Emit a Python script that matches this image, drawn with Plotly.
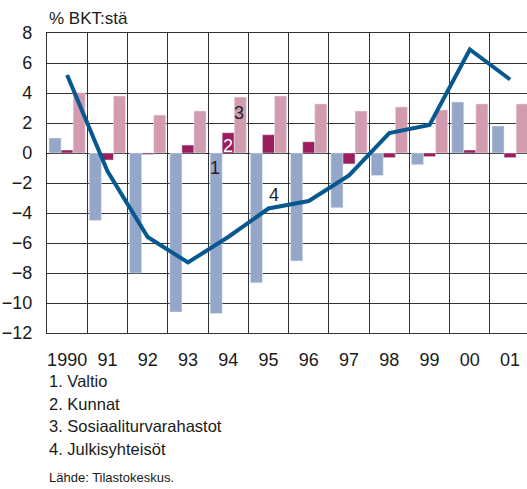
import plotly.graph_objects as go

years = ["1990", "91", "92", "93", "94", "95", "96", "97", "98", "99", "00", "01"]
valtio = [1.0, -4.5, -8.0, -10.6, -10.7, -8.65, -7.2, -3.65, -1.5, -0.78, 3.4, 1.8]
kunnat = [0.2, -0.47, -0.1, 0.53, 1.35, 1.22, 0.75, -0.73, -0.31, -0.24, 0.2, -0.31]
sosiaali = [4.02, 3.8, 2.53, 2.8, 3.73, 3.8, 3.27, 2.8, 3.07, 2.87, 3.27, 3.27]
julkis = [5.2, -1.2, -5.6, -7.3, -5.6, -3.7, -3.2, -1.5, 1.33, 1.87, 6.9, 4.9]

legend_lines = ["1. Valtio", "2. Kunnat", "3. Sosiaaliturvarahastot", "4. Julkisyhteisöt"]
source = "Lähde: Tilastokeskus."
ytitle = "% BKT:stä"

x = list(range(len(years)))
FONT = "Liberation Sans, Arial, sans-serif"

fig = go.Figure()
fig.add_trace(go.Bar(x=x, y=valtio, marker_color="#95A7C8", name="Valtio"))
fig.add_trace(go.Bar(x=x, y=kunnat, marker_color="#9A1D5C", name="Kunnat"))
fig.add_trace(go.Bar(x=x, y=sosiaali, marker_color="#D39BAF", name="Sosiaaliturvarahastot"))
fig.add_trace(go.Scatter(x=x, y=julkis, mode="lines", line=dict(color="#06588F", width=4),
                         name="Julkisyhteisöt"))

fig.update_layout(
    width=527, height=489,
    margin=dict(l=47, r=0, t=33, b=156),
    plot_bgcolor="white", paper_bgcolor="white",
    barmode="group", bargap=0.1, bargroupgap=0,
    showlegend=False,
    font=dict(family=FONT, color="#1a1a1a"),
)
fig.update_xaxes(
    range=[-0.5, 11.42], tickmode="array", tickvals=x, ticktext=years,
    showgrid=False, zeroline=False,
    tickfont=dict(size=18, family=FONT, color="#1a1a1a"),
    ticklabelstandoff=10,
    showline=True, linecolor="#333", linewidth=1.2, mirror=True,
    minor=dict(tickmode="linear", tick0=0.5, dtick=1, showgrid=True,
               gridcolor="#333", gridwidth=1.3),
)
fig.update_yaxes(
    range=[-12, 8], dtick=2, showgrid=True, gridcolor="#333", gridwidth=1.3,
    zeroline=True, zerolinecolor="#222", zerolinewidth=1.4,
    tickfont=dict(size=18, family=FONT, color="#1a1a1a"),
    ticklabelstandoff=10,
    showline=True, linecolor="#333", linewidth=1.2,
)

ann = []
ann.append(dict(text=ytitle, xref="paper", yref="paper", x=0, y=1.047,
                xanchor="left", yanchor="middle", showarrow=False,
                font=dict(size=17, family=FONT, color="#1a1a1a")))
for i, (t, yy) in enumerate(zip(legend_lines, [-0.159, -0.236, -0.31, -0.386])):
    ann.append(dict(text=t, xref="paper", yref="paper", x=0, y=yy,
                    xanchor="left", yanchor="middle", showarrow=False,
                    font=dict(size=16.5, family=FONT, color="#1a1a1a")))
ann.append(dict(text=source, xref="paper", yref="paper", x=0, y=-0.483,
                xanchor="left", yanchor="middle", showarrow=False,
                font=dict(size=13, family=FONT, color="#1a1a1a")))
for t, xx, yy, c in [("1", 3.67, -1.0, "#222"), ("2", 3.99, 0.47, "white"),
                     ("3", 4.27, 2.67, "#222"), ("4", 5.14, -2.8, "#222")]:
    ann.append(dict(text=t, x=xx, y=yy, xref="x", yref="y", showarrow=False,
                    font=dict(size=18, family=FONT, color=c)))
fig.update_layout(annotations=ann)

fig.write_html("out.html")
